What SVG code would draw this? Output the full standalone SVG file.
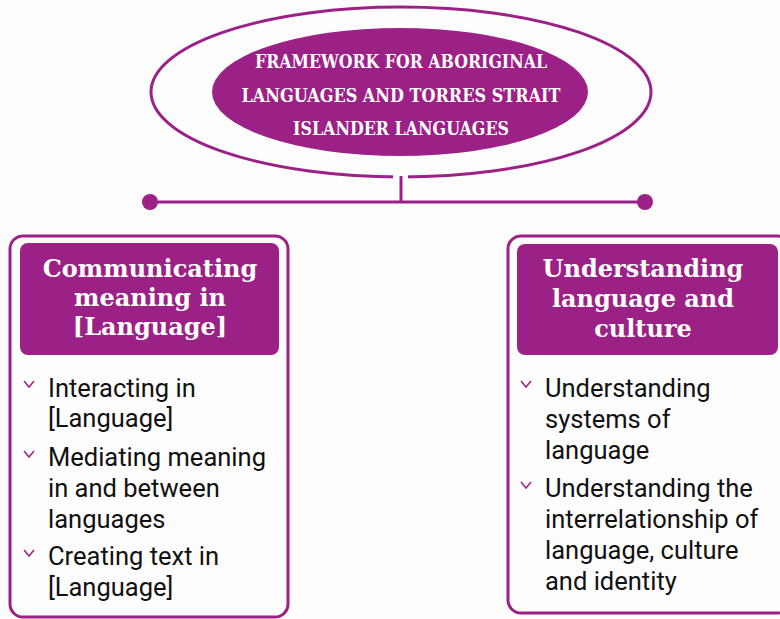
<svg xmlns="http://www.w3.org/2000/svg" width="780" height="619" viewBox="0 0 780 619">
<style>
.p{fill:#9c2187}
.ln{stroke:#9c2187;stroke-width:3;fill:none}
.title{font-family:"DejaVu Serif",serif;font-weight:bold;font-size:19px;fill:#fff;text-anchor:middle}
.hd{font-family:"DejaVu Serif",serif;font-weight:bold;font-size:24px;fill:#fff;text-anchor:middle}
.bt{font-family:Roboto,"Liberation Sans",sans-serif;font-size:25.5px;fill:#111}
.chev{stroke:#9c2187;stroke-width:1.5;fill:none}
</style>
<rect width="780" height="619" fill="#fdfdfd"/>
<g id="root">
<ellipse cx="401" cy="92" rx="250" ry="85" class="ln"/>
<rect x="393" y="170" width="15" height="10" fill="#fdfdfd"/>
<ellipse cx="400" cy="92" rx="188" ry="64" class="p"/>
<text class="title" x="401" y="68" textLength="292" lengthAdjust="spacingAndGlyphs">FRAMEWORK FOR ABORIGINAL</text>
<text class="title" x="401" y="102" textLength="319" lengthAdjust="spacingAndGlyphs">LANGUAGES AND TORRES STRAIT</text>
<text class="title" x="401" y="135" textLength="216" lengthAdjust="spacingAndGlyphs">ISLANDER LANGUAGES</text>
</g>
<g id="connectors">
<line x1="401" y1="176" x2="401" y2="202" class="ln"/>
<line x1="150" y1="202" x2="645" y2="202" class="ln"/>
<circle cx="150" cy="202" r="8" class="p"/>
<circle cx="645" cy="202" r="8" class="p"/>
</g>
<g id="left">
<rect x="10" y="236" width="278" height="381" rx="13" class="ln"/>
<rect x="20" y="243" width="259" height="112" rx="8" class="p"/>
<text class="hd" x="150" y="277">Communicating</text>
<text class="hd" x="150" y="306">meaning in</text>
<text class="hd" x="150" y="335">[Language]</text>
<polyline class="chev" points="24,381 29,387 34,381"/>
<polyline class="chev" points="24,451 29,457 34,451"/>
<polyline class="chev" points="24,550 29,556 34,550"/>
<text class="bt" x="48" y="397">Interacting in</text>
<text class="bt" x="48" y="427">[Language]</text>
<text class="bt" x="48" y="466">Mediating meaning</text>
<text class="bt" x="48" y="497">in and between</text>
<text class="bt" x="48" y="528">languages</text>
<text class="bt" x="48" y="565">Creating text in</text>
<text class="bt" x="48" y="596">[Language]</text>
</g>
<g id="right">
<rect x="508" y="236" width="282" height="377" rx="13" class="ln"/>
<rect x="517" y="244" width="261" height="111" rx="8" class="p"/>
<text class="hd" x="643" y="277">Understanding</text>
<text class="hd" x="643" y="307">language and</text>
<text class="hd" x="643" y="337">culture</text>
<polyline class="chev" points="521,381 526,387 531,381"/>
<polyline class="chev" points="521,482 526,488 531,482"/>
<text class="bt" x="545" y="397">Understanding</text>
<text class="bt" x="545" y="428">systems of</text>
<text class="bt" x="545" y="459">language</text>
<text class="bt" x="545" y="497">Understanding the</text>
<text class="bt" x="545" y="528">interrelationship of</text>
<text class="bt" x="545" y="559">language, culture</text>
<text class="bt" x="545" y="590">and identity</text>
</g>
</svg>
